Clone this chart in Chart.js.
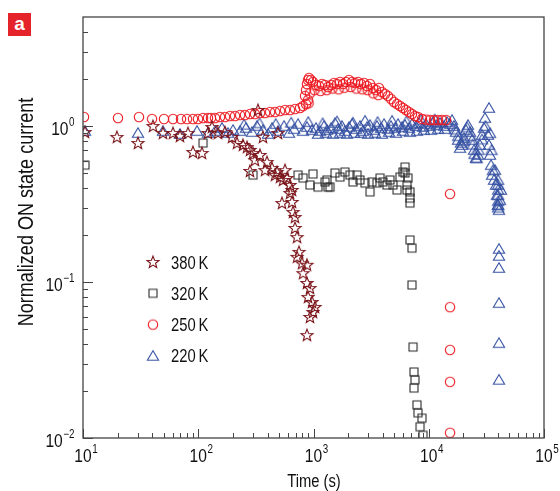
<!DOCTYPE html>
<html>
<head>
<meta charset="utf-8">
<script src="https://cdn.jsdelivr.net/npm/chart.js@4.4.1/dist/chart.umd.min.js"></script>
<style>
  html, body { margin: 0; padding: 0; background: #fff; }
  #wrap { position: relative; width: 560px; height: 491px; }
  #panel { position: absolute; left: 8px; top: 13px; width: 23px; height: 23px; background: #e5232b;
           color: #fff; font: bold 19px "Liberation Sans", Arial, sans-serif; text-align: center; line-height: 21px; }
</style>
</head>
<body>
<div id="wrap">
  <canvas id="chart" width="560" height="491"></canvas>
  <div id="panel">a</div>
</div>
<script>
// series names (legend)
const seriesNames = ["380\u2009K", "320\u2009K", "250\u2009K", "220\u2009K"];

// 380 K (stars)
const time380 = [10.4, 19.7, 30.0, 40.5, 49.4, 60.4, 69.4, 81.5, 90, 107.8, 121.5, 131.6, 148.4, 170.7, 196.3, 216.9,
  244.5, 264.9, 281.2, 298.6, 330, 343.4, 364.6, 395, 436.4, 492, 281.2, 482.3, 512.1, 543.8, 588.8, 625.4, 650.9,
  625.4, 650.9, 533, 664, 691.1, 691.1, 719.2, 748.5, 719.2, 794.8, 878.2, 811, 878.2, 932.4, 896, 970.5, 1030, 990,
  932.4, 878.2, 310.7, 379.5, 463.4, 565.9];
const cur380 = [0.915, 0.850, 0.778, 1.0, 0.902, 0.902, 0.863, 0.902, 0.681, 0.671, 0.902, 0.985, 0.902, 0.915, 0.850, 0.778,
  0.756, 0.733, 0.702, 0.671, 1.266, 0.652, 0.850, 0.588, 0.538, 0.902, 0.515, 0.507, 0.471, 0.451, 0.464, 0.419, 0.389,
  0.372, 0.326, 0.321, 0.281, 0.261, 0.222, 0.194, 0.156, 0.145, 0.132, 0.129, 0.114, 0.0986, 0.0915, 0.0801, 0.0744, 0.0692, 0.0642,
  0.0597, 0.0457, 0.605, 0.522, 0.485, 0.522];

// 320 K (squares)
const time320 = [10.4, 110, 298.6, 733.8, 811, 990, 932, 1094, 1259, 1336, 1309, 1391, 1537, 1698, 1876, 2074, 2201, 2385,
  2532, 2799, 3092, 3218, 3556, 3776, 4009, 4342, 4610, 4895, 5303, 5630, 5978, 6223, 6223, 6604, 6477, 6477, 6875, 6875,
  6875, 6875, 7155, 7155, 7301, 7447, 7597, 7447, 7907, 8066, 8738, 8398, 8917];
const cur320 = [0.562, 0.778, 0.485, 0.485, 0.464, 0.493, 0.419, 0.406, 0.438, 0.406, 0.451, 0.406, 0.500, 0.471, 0.507, 0.485,
  0.438, 0.485, 0.451, 0.431, 0.378, 0.438, 0.431, 0.464, 0.438, 0.419, 0.451, 0.419, 0.389, 0.471, 0.507, 0.546, 0.500, 0.464,
  0.419, 0.389, 0.378, 0.345, 0.321, 0.186, 0.165, 0.0957, 0.0383, 0.0265, 0.0236, 0.0209, 0.0163, 0.0145, 0.0134, 0.0118, 0.0104];

// 250 K (circles)
const time250 = [10.2, 20.1, 30.6, 39.7, 50.4, 60.4, 70.8, 79.9, 90, 99.5,
  110, 121.5, 129, 139.8, 154.4, 170.7, 188.6, 208.4, 230.3, 254.4,
  281.2, 310.7, 343.4, 379.5, 419.4, 463.4, 512.1, 565.9, 625.4, 691.1,
  763.7, 811, 861, 896, 844, 861, 878, 896, 914, 951,
  990, 1051, 1116, 1185, 1259, 1336, 1419, 1507, 1600, 1698,
  1803, 1914, 2032, 2158, 2292, 2433, 2583, 2743, 2912, 3092,
  3283, 3486, 3701, 3930, 4173, 4430, 4704, 4994, 5303, 5630,
  5978, 6347, 6739, 7155, 7597, 8066, 8738, 9466, 10250, 11110,
  12030, 13030, 14120, 15290, 15290, 15290, 15290, 15290,
  1020, 1150, 1300, 1460, 1650, 1850, 2100, 2350, 2650, 2950, 3300, 3650, 905, 930];
const cur250 = [1.142, 1.125, 1.142, 1.109, 1.109, 1.109, 1.109, 1.109, 1.109, 1.109,
  1.125, 1.125, 1.125, 1.125, 1.142, 1.142, 1.159, 1.159, 1.176, 1.176,
  1.194, 1.194, 1.211, 1.211, 1.229, 1.229, 1.248, 1.266, 1.266, 1.285,
  1.305, 1.344, 1.384, 1.468, 1.557, 1.701, 1.859, 1.972, 2.031, 1.972,
  1.914, 1.831, 1.804, 1.859, 1.831, 1.778, 1.831, 1.886, 1.859, 1.914,
  1.859, 1.914, 1.972, 1.914, 1.886, 1.914, 1.859, 1.886, 1.804, 1.859,
  1.752, 1.701, 1.752, 1.652, 1.604, 1.557, 1.490, 1.425, 1.384, 1.344,
  1.305, 1.266, 1.229, 1.194, 1.159, 1.142, 1.110, 1.100, 1.093, 1.093,
  1.093, 1.093, 1.093, 0.367, 0.069, 0.0367, 0.0229, 0.0108,
  1.70, 1.68, 1.70, 1.74, 1.72, 1.76, 1.78, 1.74, 1.72, 1.70, 1.62, 1.58, 1.40, 1.62];

// 220 K (triangles)
const time220 = [10.4, 30.0, 49.4, 69.4, 97.5, 121.5, 139.8, 160.7, 181.3, 200.3,
  230.3, 259.5, 292.7, 323.4, 364.6, 403, 436.5, 492, 554.8, 613,
  677.5, 733.8, 811, 878.4, 970, 1051, 1139, 1234, 1310, 1419,
  1537, 1632, 1767, 1876, 2032, 2159, 2338, 2532, 2688, 2913,
  3092, 3350, 3556, 3852, 4091, 4431, 4703, 5095, 5410, 5860,
  6223, 6741, 7155, 7750, 8230, 8917, 9465, 10250, 10880, 11790,
  12520, 13560, 14390, 15290, 15910, 16560, 17240, 17940, 18680, 19440,
  20240, 21050, 21900, 22800, 23730, 24700, 25710, 26760, 27840, 28980,
  30160, 30760, 33320, 32660, 33320, 34000, 34690, 35390, 36830, 37570,
  38330, 39100, 39890, 40690, 41510, 42350,
  40690, 40690, 40690, 40690, 40690, 40690,
  1094, 1284, 1477, 1698, 1953, 2247, 2583, 2972, 3417, 3930, 4521, 5198, 5978, 6875, 7907, 9094, 10460, 12030, 13830,
  250, 340, 470, 640, 900, 1200, 1600, 2200, 2800, 3600, 4800, 6400, 8600, 11300,
  17000, 18000, 19000, 20000, 21500, 23000, 24000, 25000, 26000, 27000, 29000, 31000, 34000, 35000, 36000,
  40000, 40000, 40000, 40000, 40000, 40000, 40000];
const cur220 = [0.929, 0.902, 0.929, 0.889, 0.929, 0.902, 0.929, 0.971, 0.902, 0.943,
  0.929, 0.971, 0.915, 1.0, 0.943, 0.889, 0.971, 0.929, 1.0, 0.902,
  0.957, 1.030, 0.929, 0.985, 0.943, 0.971, 0.929, 1.0, 0.943, 0.971,
  1.045, 0.957, 1.0, 0.929, 0.985, 1.030, 0.957, 1.0, 0.929, 0.985,
  1.015, 0.943, 1.0, 0.971, 1.030, 0.957, 1.0, 0.971, 1.030, 0.985,
  1.015, 0.971, 1.030, 1.0, 1.045, 0.985, 1.030, 1.0, 1.061, 1.015,
  1.045, 1.0, 1.061, 1.030, 1.093, 1.0, 0.915, 0.813, 0.723, 0.756,
  0.838, 0.943, 1.015, 0.915, 0.813, 0.702, 0.624, 0.652, 0.756, 0.876,
  0.971, 1.125, 1.305, 0.876, 0.756, 0.652, 0.562, 0.485, 0.451, 0.522,
  0.419, 0.361, 0.312, 0.289, 0.335, 0.389,
  0.163, 0.147, 0.123, 0.0733, 0.0406, 0.0236,
  0.889, 0.902, 0.889, 0.902, 0.889, 0.902, 0.902, 0.889, 0.902, 0.889, 0.915, 0.902, 0.929, 0.915, 0.929, 0.943, 0.943, 0.957, 0.957,
  1.02, 1.04, 1.03, 1.05, 1.06, 1.04, 1.07, 1.05, 1.08, 1.06, 1.08, 1.07, 1.09, 1.10,
  0.95, 0.86, 0.78, 0.80, 0.98, 0.86, 0.76, 0.66, 0.62, 0.70, 0.82, 1.0, 0.90, 0.70, 0.52,
  0.45, 0.42, 0.39, 0.36, 0.33, 0.31, 0.30];

// axis ticks
const xTicks = [10, 100, 1000, 10000, 100000];
const xTickExp = ["1", "2", "3", "4", "5"];
const yTicks = [0.01, 0.1, 1];
const yTickExp = ["\u22122", "\u22121", "0"];

const FONT = '"Liberation Sans", Arial, sans-serif';
const NARROW = 0.82;

// condensed text: regular sans squeezed horizontally
function txt(ctx, s, x, y, size, align) {
  ctx.font = size + "px " + FONT;
  const w = ctx.measureText(s).width * NARROW;
  const x0 = align === "center" ? x - w / 2 : align === "right" ? x - w : x;
  ctx.save();
  ctx.translate(x0, y);
  ctx.scale(NARROW, 1);
  ctx.textAlign = "left";
  ctx.fillText(s, 0, 0);
  ctx.restore();
  return w;
}

// marker images
function makeMarker(shape, color) {
  const c = document.createElement("canvas");
  c.width = 16; c.height = 16;
  const g = c.getContext("2d");
  g.strokeStyle = color;
  g.lineWidth = 1.1;
  g.beginPath();
  if (shape === "circle") {
    g.arc(8, 8, 4.7, 0, Math.PI * 2);
  } else if (shape === "square") {
    g.rect(4, 4, 8, 8);
  } else if (shape === "triangle") {
    g.moveTo(8, 2.8);
    g.lineTo(13.6, 12.2);
    g.lineTo(2.4, 12.2);
    g.closePath();
  } else if (shape === "star") {
    for (let i = 0; i < 10; i++) {
      const r = i % 2 === 0 ? 6.3 : 2.7;
      const a = -Math.PI / 2 + i * Math.PI / 5;
      const px = 8 + r * Math.cos(a), py = 8.4 + r * Math.sin(a);
      if (i === 0) g.moveTo(px, py); else g.lineTo(px, py);
    }
    g.closePath();
  }
  g.stroke();
  return c;
}

const markers = [
  makeMarker("star", "#7a1419"),
  makeMarker("square", "#2a2a2a"),
  makeMarker("circle", "#ec1c24"),
  makeMarker("triangle", "#3450a2")
];

function pts(xs, ys) {
  return xs.map((x, i) => ({ x: x, y: ys[i] }));
}

const frameTicks = {
  id: "frameTicks",
  afterDraw(chart) {
    const ctx = chart.ctx, a = chart.chartArea;
    const xs = chart.scales.x, ys = chart.scales.y;
    ctx.save();
    ctx.strokeStyle = "#444";
    ctx.lineWidth = 1.3;
    ctx.strokeRect(a.left, a.top, a.right - a.left, a.bottom - a.top);

    ctx.lineWidth = 1;
    ctx.beginPath();
    xTicks.forEach((v, i) => {
      const p = Math.round(xs.getPixelForValue(v)) + 0.5;
      ctx.moveTo(p, a.bottom); ctx.lineTo(p, a.bottom - 9);
      if (i < xTicks.length - 1) {
        for (let k = 2; k <= 9; k++) {
          const q = Math.round(xs.getPixelForValue(v * k)) + 0.5;
          ctx.moveTo(q, a.bottom); ctx.lineTo(q, a.bottom - 5);
        }
      }
    });
    yTicks.forEach((v) => {
      const p = Math.round(ys.getPixelForValue(v)) + 0.5;
      ctx.moveTo(a.left, p); ctx.lineTo(a.left + 10, p);
      for (let k = 2; k <= 9; k++) {
        if (v * k >= ys.max) break;
        const q = Math.round(ys.getPixelForValue(v * k)) + 0.5;
        ctx.moveTo(a.left, q); ctx.lineTo(a.left + 5, q);
      }
    });
    ctx.stroke();

    // tick labels
    ctx.fillStyle = "#111";
    ctx.textBaseline = "alphabetic";
    const pow = (exp, x, y, alignRight) => {
      ctx.font = "19px " + FONT;
      const wb = ctx.measureText("10").width * NARROW;
      ctx.font = "12px " + FONT;
      const we = ctx.measureText(exp).width * NARROW;
      const x0 = alignRight ? x - wb - we - 1 : x - wb / 2;
      txt(ctx, "10", x0, y, 19, "left");
      txt(ctx, exp, x0 + wb + 0.5, y - 9, 12, "left");
    };
    xTicks.forEach((v, i) => pow(xTickExp[i], xs.getPixelForValue(v), a.bottom + 24, false));
    yTicks.forEach((v, i) => pow(yTickExp[i], a.left - 8, ys.getPixelForValue(v) + 9, true));

    // axis titles
    txt(ctx, "Time (s)", 314, 487, 18, "center");
    ctx.save();
    ctx.translate(33, 212);
    ctx.rotate(-Math.PI / 2);
    txt(ctx, "Normalized ON state current", 0, 0, 22, "center");
    ctx.restore();

    // legend
    seriesNames.forEach((name, i) => {
      const cy = 262 + i * 31.3;
      ctx.drawImage(markers[i], 153 - 8, cy - 8);
      txt(ctx, name, 171, cy + 6.5, 18, "left");
    });
    ctx.restore();
  }
};

const ctx = document.getElementById("chart").getContext("2d");

new Chart(ctx, {
  type: "scatter",
  data: {
    datasets: [
      { label: seriesNames[0], data: pts(time380, cur380), pointStyle: markers[0], pointRadius: 5 },
      { label: seriesNames[1], data: pts(time320, cur320), pointStyle: markers[1], pointRadius: 5 },
      { label: seriesNames[2], data: pts(time250, cur250), pointStyle: markers[2], pointRadius: 5 },
      { label: seriesNames[3], data: pts(time220, cur220), pointStyle: markers[3], pointRadius: 5 }
    ]
  },
  options: {
    responsive: false,
    animation: false,
    events: [],
    layout: { padding: { top: 17, right: 16, left: 0, bottom: 0 } },
    plugins: { legend: { display: false }, tooltip: { enabled: false } },
    scales: {
      x: {
        type: "logarithmic", min: 10, max: 100000,
        ticks: { display: false }, grid: { display: false }, border: { display: false },
        afterFit(scale) { scale.height = 53; }
      },
      y: {
        type: "logarithmic", min: 0.01, max: 5,
        ticks: { display: false }, grid: { display: false }, border: { display: false },
        afterFit(scale) { scale.width = 83; }
      }
    }
  },
  plugins: [frameTicks]
});
</script>
</body>
</html>
